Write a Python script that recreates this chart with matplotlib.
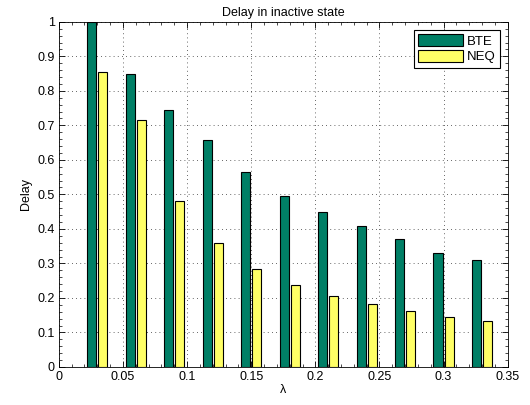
import numpy as np
import matplotlib
matplotlib.use("Agg")
import matplotlib.pyplot as plt
from matplotlib.ticker import MultipleLocator

# ------------------------------------------
# Data
# ------------------------------------------

lam = [0.03, 0.06, 0.09, 0.12, 0.15, 0.18, 0.21, 0.24, 0.27, 0.30, 0.33]
bte = [1.0, 0.849, 0.744, 0.657, 0.566, 0.495, 0.448, 0.409, 0.370, 0.331, 0.309]
neq = [0.854, 0.716, 0.482, 0.358, 0.284, 0.238, 0.205, 0.183, 0.162, 0.146, 0.132]

series_names = ["BTE", "NEQ"]
colors = ["#007F66", "#FFFF66"]

plt.rcParams["font.family"] = ["Liberation Sans", "DejaVu Sans"]
plt.rcParams["font.size"] = 9

# ------------------------------------------
# Graph
# ------------------------------------------

fig = plt.figure(figsize=(5.3, 4.05), dpi=100)
ax = fig.add_axes([0.111, 0.094, 0.847, 0.852])

x = np.array(lam)
width = 0.0072
offset = 0.0043

ax.bar(x - offset, bte, width, color=colors[0], edgecolor="black",
       linewidth=0.8, label=series_names[0], zorder=3)
ax.bar(x + offset, neq, width, color=colors[1], edgecolor="black",
       linewidth=0.8, label=series_names[1], zorder=3)

ax.set_xlim(0, 0.35)
ax.set_ylim(0, 1)
ax.set_xticks(np.arange(0, 0.351, 0.05))
ax.set_xticklabels(["0", "0.05", "0.1", "0.15", "0.2", "0.25", "0.3", "0.35"])
ax.set_yticks(np.arange(0, 1.01, 0.1))
ax.set_yticklabels(["0", "0.1", "0.2", "0.3", "0.4", "0.5", "0.6",
                    "0.7", "0.8", "0.9", "1"])
ax.yaxis.set_minor_locator(MultipleLocator(0.02))
ax.xaxis.set_minor_locator(MultipleLocator(0.01))

ax.tick_params(which="both", direction="in", top=True, right=True,
               labelsize=9, pad=3)
ax.tick_params(which="major", length=4, width=0.6)
ax.tick_params(which="minor", length=2, width=0.5)

ax.grid(True, which="major", linestyle=(0, (1, 4)), color="#333333",
        linewidth=0.6, zorder=0)

for s in ax.spines.values():
    s.set_linewidth(0.6)

ax.set_title("Delay in inactive state", fontsize=9, pad=4)
ax.set_xlabel("λ", fontsize=9, labelpad=1)
ax.set_ylabel("Delay", fontsize=9, labelpad=4)

leg = ax.legend(loc="upper right", bbox_to_anchor=(1, 1),
                fancybox=False, framealpha=1, edgecolor="black",
                handlelength=3.4, handleheight=1.0, handletextpad=0.25,
                borderpad=0.35, labelspacing=0.15, borderaxespad=0.6,
                fontsize=9.5)
leg.get_frame().set_linewidth(0.8)

fig.savefig("out.png", dpi=100)
